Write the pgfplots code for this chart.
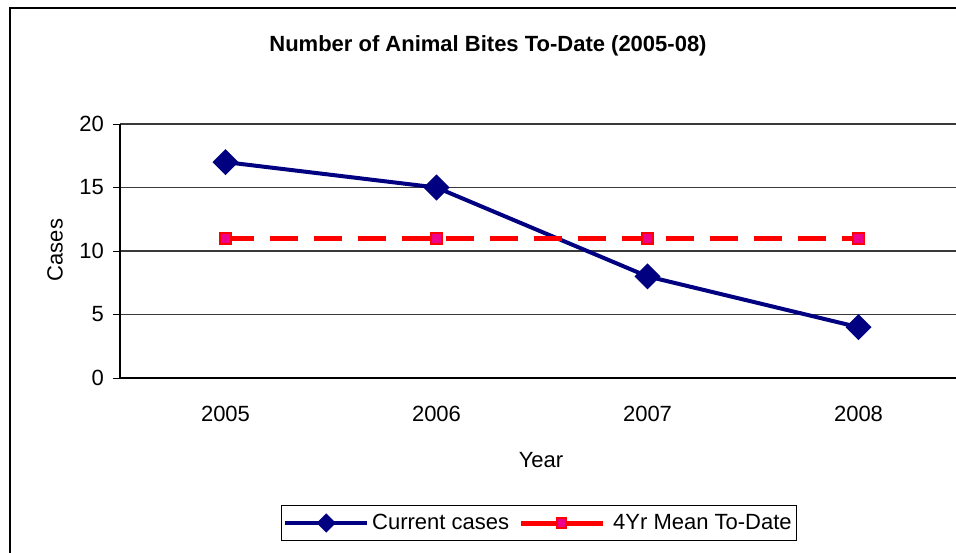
\documentclass[border=0pt]{standalone}
\usepackage{pgfplots}
\pgfplotsset{compat=1.18}
\usepackage{fontspec}
\setmainfont{Liberation Sans}
\definecolor{navy}{HTML}{000080}
\definecolor{gridgray}{HTML}{3A3A3A}
\begin{document}
\begin{tikzpicture}
\useasboundingbox (0pt,0pt) rectangle (478pt,276pt);
\clip (0pt,0pt) rectangle (478pt,276pt);
\fill[white] (0pt,0pt) rectangle (478pt,276pt);
\draw[black, line width=1pt] (5pt,-20pt) -- (5pt,272pt) -- (520pt,272pt);
\begin{axis}[
  at={(60pt,87pt)}, anchor=south west,
  scale only axis, width=422pt, height=127pt,
  xmin=-0.5, xmax=3.5, ymin=0, ymax=20,
  axis x line*=bottom, axis y line*=left,
  axis line style={black, line width=0.6pt, -},
  xtick={0,1,2,3}, xticklabels={2005,2006,2007,2008},
  major x tick style={draw=none},
  extra x ticks={0.5,1.5,2.5}, extra x tick labels={},
  extra x tick style={tick align=outside, major tick length=3.5pt, major x tick style={black, line width=0.5pt}, grid=none},
  ytick={0,5,10,15,20},
  tick align=outside, major tick length=3.5pt,
  tick style={black, line width=0.5pt},
  ymajorgrids, grid style={gridgray, line width=0.6pt},
  /pgf/number format/assume math mode=true,
  ticklabel style={font=\fontsize{11}{13}\selectfont},
  yticklabel style={xshift=-1pt},
  xticklabel style={yshift=-7pt},
  xlabel={Year}, ylabel={Cases},
  label style={font=\fontsize{11}{13}\selectfont},
  xlabel style={at={(axis description cs:0.4988,-0.323)}, anchor=center},
  ylabel style={at={(axis description cs:-0.077,0.504)}, anchor=center, rotate=0},
  title={\bfseries Number of Animal Bites To-Date (2005-08)},
  title style={at={(axis description cs:0.436,1.315)}, anchor=center, yshift=-7pt, font=\fontsize{11}{13}\selectfont},
  legend columns=2,
  legend style={at={(axis description cs:0.4964,-0.571)}, anchor=center,
    draw=black, line width=0.5pt, font=\fontsize{11}{13}\selectfont,
    inner xsep=1pt, inner ysep=2pt,
    nodes={inner xsep=1.5pt},
    /tikz/every even column/.append style={column sep=3pt}},
  legend image code/.code={\draw[mark repeat=2,mark phase=2,#1,solid] plot coordinates {(0pt,0pt) (20.5pt,0pt) (41pt,0pt)};},
  clip=false,
]
\addplot[navy, line width=2pt, mark=square*, mark size=3.6pt, mark options={rotate=45, solid, fill=navy, draw=navy},
  legend image post style={mark size=2.4pt}]
  coordinates {(0,17) (1,15) (2,8) (3,4)};
\addlegendentry{Current cases}
\addplot[red, line width=2.5pt, dash pattern=on 14pt off 8pt, mark=square*, mark size=2.6pt, mark options={solid, fill=magenta, draw=red, line width=1pt},
  legend image post style={mark size=2.4pt}]
  coordinates {(0,11) (1,11) (2,11) (3,11)};
\addlegendentry{\hspace{2.5pt}4Yr Mean To-Date}
\end{axis}
\end{tikzpicture}
\end{document}
